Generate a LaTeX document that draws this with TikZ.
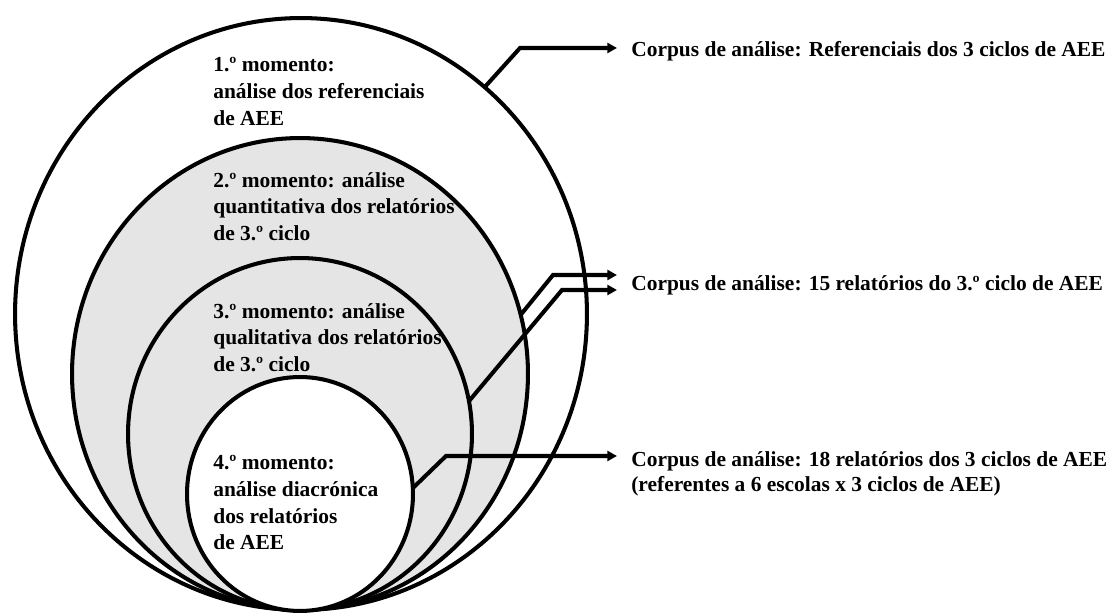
\documentclass[tikz,border=0pt]{standalone}
\usepackage{fontspec}
\setmainfont{Liberation Serif}
\usetikzlibrary{arrows.meta,shapes.geometric}
\definecolor{anelgray}{RGB}{229,229,229}
\tikzset{
  momento/.style={ellipse, draw, line width=2.3pt, inner sep=0pt, outer sep=0pt},
  etapa/.style={anchor=north west, align=left, inner sep=0pt,
    font=\fontsize{12.2}{15.2}\selectfont\bfseries},
  corpus/.style={anchor=north west, align=left, inner xsep=0.28cm, inner ysep=0pt,
    font=\fontsize{12.2}{14.2}\selectfont\bfseries},
  seta/.style={-{Triangle[length=5.5pt,width=5.7pt]}, line width=2.3pt}
}
\begin{document}
\begin{tikzpicture}[x=0.02cm, y=-0.02cm]
  \useasboundingbox (0,0) rectangle (1110,614);
  % nested moments
  \node[momento, fill=white, minimum width=11.44cm, minimum height=11.84cm] (m1) at (301,314) {};
  \node[momento, fill=anelgray, minimum width=9.12cm, minimum height=9.44cm] (m2) at (300,374) {};
  \node[momento, fill=anelgray, minimum width=6.88cm, minimum height=7.04cm] (m3) at (300,434) {};
  \node[momento, fill=white, minimum width=4.52cm, minimum height=4.68cm] (m4) at (300,494) {};
  \node[etapa] (e1) at (213,57) {1.º momento:\\análise dos referenciais\\de AEE};
  \node[etapa] (e2) at (213,172) {2.º momento: análise\\quantitativa dos relatórios\\de 3.º ciclo};
  \node[etapa] (e3) at (213,303) {3.º momento: análise\\qualitativa dos relatórios\\de 3.º ciclo};
  \node[etapa] (e4) at (213,455) {4.º momento:\\análise diacrónica\\dos relatórios\\de AEE};
  % corpus of each moment
  \node[corpus] (c1) at (617,41) {Corpus de análise: Referenciais dos 3 ciclos de AEE};
  \node[corpus] (c2) at (617,275) {Corpus de análise: 15 relatórios do 3.º ciclo de AEE};
  \node[corpus] (c3) at (617,451) {Corpus de análise: 18 relatórios dos 3 ciclos de AEE\\(referentes a 6 escolas x 3 ciclos de AEE)};
  \coordinate (k1) at (520,48);
  \coordinate (k2) at (553,275);
  \coordinate (k3) at (562,290);
  \coordinate (k4) at (446,456);
  \draw[seta] (m1.51) -- (k1) -- (k1 -| c1.west);
  \draw[seta] (m2.15) -- (k2) -- (k2 -| c2.west);
  \draw[seta] (m3.11) -- (k3) -- (k3 -| c2.west);
  \draw[seta] (m4.3) -- (k4) -- (k4 -| c3.west);
\end{tikzpicture}
\end{document}
